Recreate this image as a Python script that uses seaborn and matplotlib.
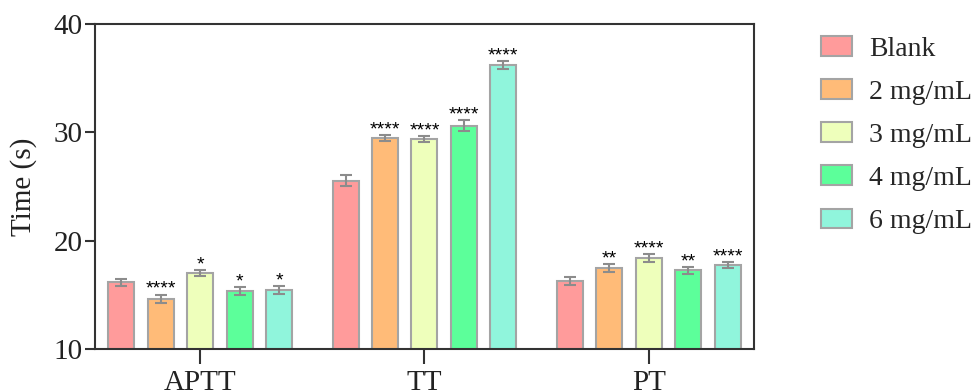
"""Coagulation times (APTT, TT, PT) by dose, grouped bars with SD and significance stars."""

import pandas as pd
import seaborn as sns
import matplotlib.pyplot as plt

# -----------------------------------------------------------------------------

tests = ['APTT', 'TT', 'PT']
doses = ['Blank', '2 mg/mL', '3 mg/mL', '4 mg/mL', '6 mg/mL']

mean_aptt = [16.15, 14.65, 17.0, 15.35, 15.45]
mean_tt = [25.55, 29.45, 29.4, 30.6, 36.25]
mean_pt = [16.3, 17.45, 18.4, 17.25, 17.75]

err_aptt = [0.3, 0.38, 0.25, 0.33, 0.37]
err_tt = [0.55, 0.28, 0.28, 0.5, 0.37]
err_pt = [0.35, 0.35, 0.37, 0.3, 0.25]

stars_aptt = ['', '****', '*', '*', '*']
stars_tt = ['', '****', '****', '****', '****']
stars_pt = ['', '**', '****', '**', '****']

colors = ['#ff9b9b', '#ffbb78', '#eeffbb', '#5cff9a', '#90f5dc']

# -----------------------------------------------------------------------------

means = {'APTT': mean_aptt, 'TT': mean_tt, 'PT': mean_pt}
errs = {'APTT': err_aptt, 'TT': err_tt, 'PT': err_pt}
stars = {'APTT': stars_aptt, 'TT': stars_tt, 'PT': stars_pt}

rows = []
for t in tests:
    for d, m, e, s in zip(doses, means[t], errs[t], stars[t]):
        rows.append({'test': t, 'dose': d, 'time': m, 'err': e, 'star': s})
df = pd.DataFrame(rows)

sns.set_style('ticks')
plt.rcParams['font.family'] = ['Liberation Serif', 'DejaVu Serif']

fig = plt.figure(figsize=(9.71, 3.92), dpi=100)
ax = fig.add_axes([0.0978, 0.1097, 0.6787, 0.8291])

sns.barplot(
    data=df, x='test', y='time', hue='dose', order=tests, hue_order=doses,
    palette=colors, saturation=1, width=0.88, gap=0.34, errorbar=None,
    edgecolor='#a4a4a4', linewidth=1.5, ax=ax
)

# Error bars and significance marks, placed on the bars seaborn drew.
bar_groups = list(ax.containers)
for i, cont in enumerate(bar_groups):
    for j, bar in enumerate(cont):
        row = df[(df.test == tests[j]) & (df.dose == doses[i])].iloc[0]
        x = bar.get_x() + bar.get_width() / 2
        ax.errorbar(x, row.time, yerr=row.err, color='#8c8c8c',
                    capsize=4.5, elinewidth=1.5, capthick=1.5, zorder=3)
        if row.star:
            ax.text(x, row.time + row.err + 0.05, row.star, ha='center',
                    va='baseline', fontsize=14, color='black',
                    family=['Liberation Sans', 'DejaVu Sans'])

ax.set_ylim(10, 40)
ax.set_xlim(-0.47, 2.47)
ax.set_yticks([10, 20, 30, 40])
ax.set_xlabel('')
ax.set_ylabel('Time (s)', fontsize=21, color='#222222', labelpad=12)

for side in ['left', 'right', 'top', 'bottom']:
    ax.spines[side].set_visible(True)
    ax.spines[side].set_linewidth(1.5)
    ax.spines[side].set_color('#333333')

ax.tick_params(axis='y', labelsize=21, length=7, width=1.5, color='#333333',
               labelcolor='#222222', pad=2)
ax.tick_params(axis='x', labelsize=21, length=11, width=1.5, color='#333333',
               labelcolor='#222222', pad=4)

ax.legend(loc='upper left', bbox_to_anchor=(1.085, 0.997), frameon=False,
          fontsize=20, handlelength=1.1, handleheight=0.72,
          handletextpad=0.62, labelspacing=0.63, borderaxespad=0)

fig.savefig('out.png', dpi=100)
